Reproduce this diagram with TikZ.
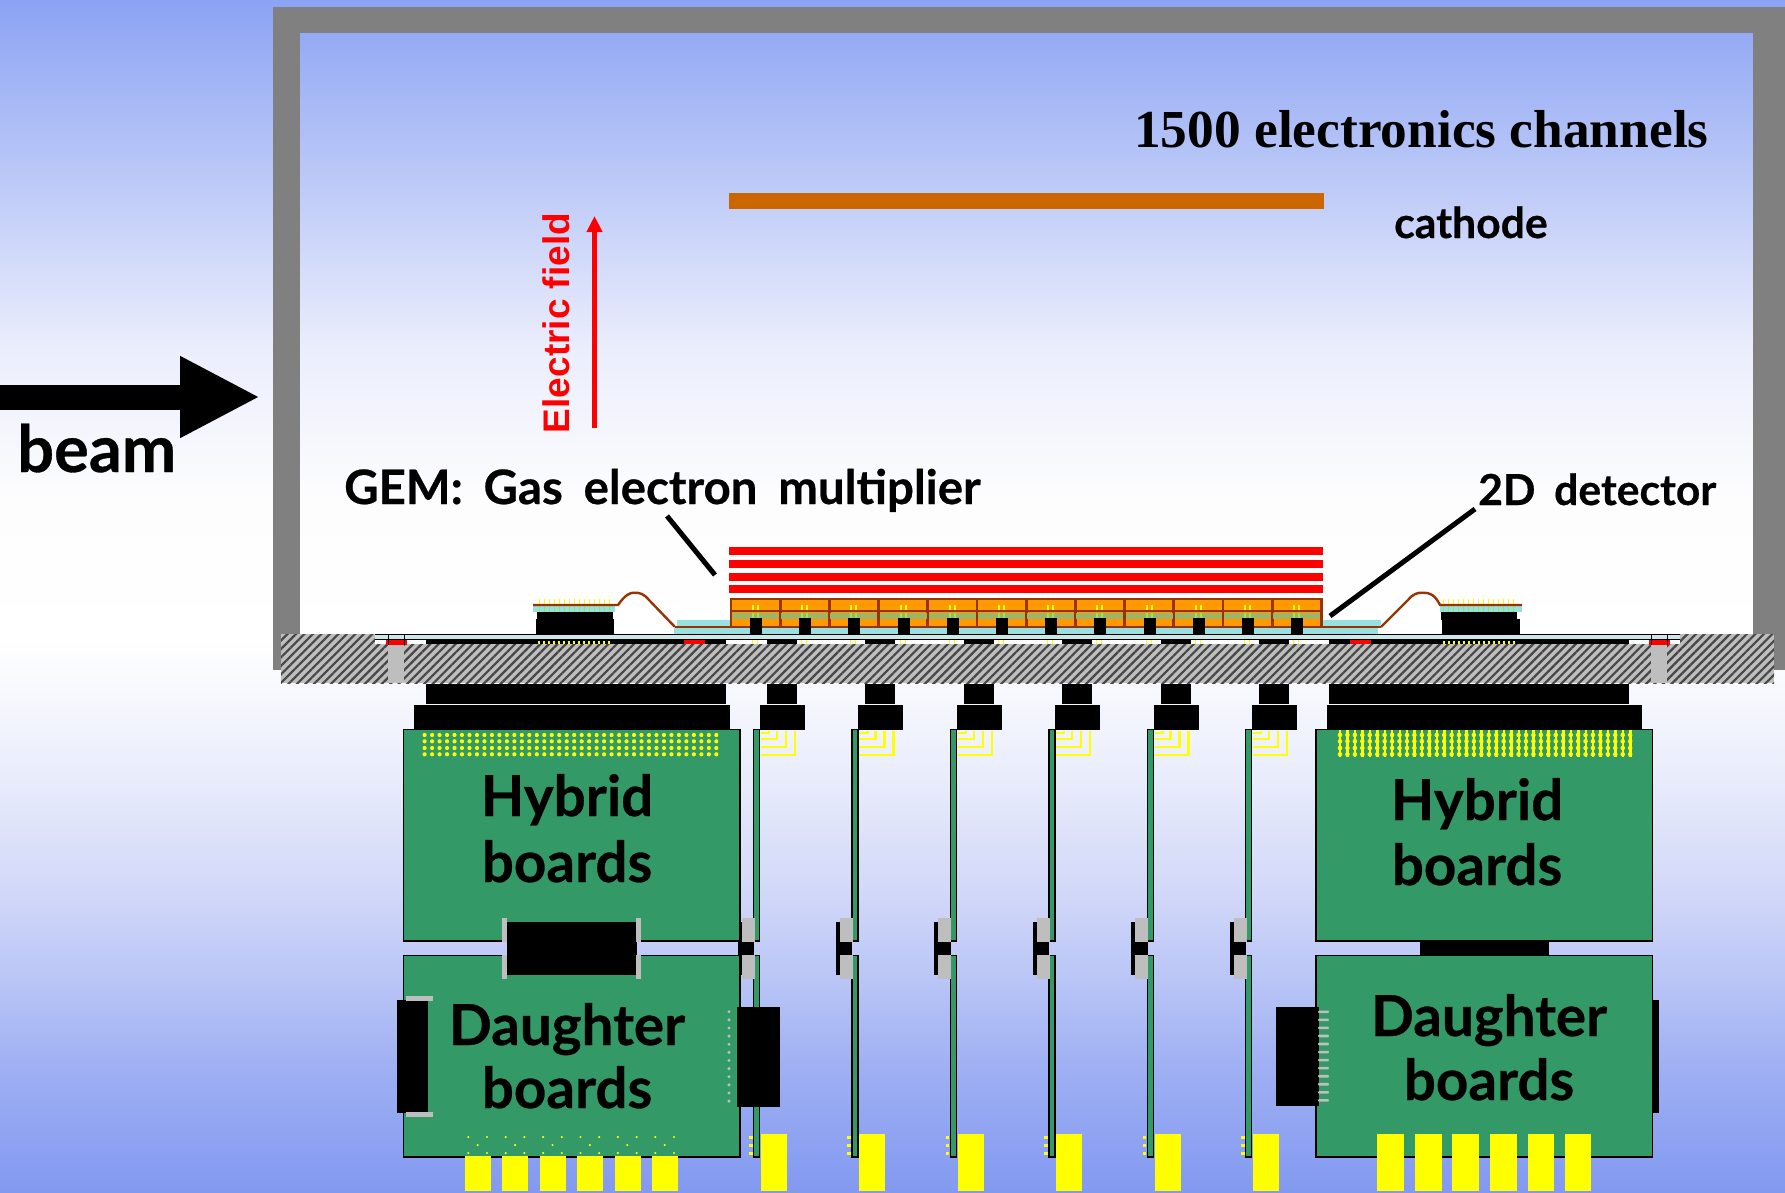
\documentclass[tikz,border=0pt]{standalone}
\usepackage{fontspec}
\setmainfont{Liberation Serif}
\newfontfamily\comicfont{Lato}[WordSpace=1.8,BoldFeatures={FakeBold=0.5}]
\newfontfamily\arialfont{Liberation Sans}
\usetikzlibrary{arrows.meta,patterns.meta}
\definecolor{skya}{RGB}{130,153,240}
\definecolor{skyb}{RGB}{158,175,243}
\definecolor{skyc}{RGB}{185,197,246}
\definecolor{skyd}{RGB}{210,216,248}
\definecolor{skye}{RGB}{238,241,252}
\definecolor{skyf}{RGB}{253,253,254}
\definecolor{skyg}{RGB}{235,238,252}
\definecolor{skyh}{RGB}{139,163,243}
\pgfdeclareverticalshading{skyfade}{100bp}{
  color(0bp)=(skya); color(25bp)=(skya); color(30.15bp)=(skyb); color(33.9bp)=(skyc);
  color(37.7bp)=(skyd); color(43.6bp)=(skye); color(48.2bp)=(white); color(54bp)=(skyf);
  color(60.3bp)=(skyg); color(75bp)=(skyh); color(100bp)=(skyh)}
\definecolor{wallgray}{RGB}{128,128,128}
\definecolor{postgray}{RGB}{190,190,190}
\definecolor{boardgreen}{RGB}{51,153,102}
\definecolor{cathodeorange}{RGB}{204,102,0}
\definecolor{cellorange}{RGB}{255,153,0}
\definecolor{cellbrown}{RGB}{153,51,0}
\definecolor{cellband}{RGB}{160,180,105}
\definecolor{cellpin}{RGB}{150,230,90}
\definecolor{gascyan}{RGB}{153,224,224}
\definecolor{stripcyan}{RGB}{205,232,232}
\definecolor{padyellow}{RGB}{255,255,0}
\tikzset{
  wall/.style={fill=wallgray},
  hatched/.style={pattern={Lines[angle=45,distance=6pt,line width=2.2pt]}, pattern color=black!72},
  board/.style={draw=black, fill=boardgreen, line width=1.4pt},
  part/.style={fill=black},
  post/.style={fill=postgray},
  pad/.style={fill=padyellow},
  foil/.style={fill=red},
  cell/.style={draw=cellbrown, fill=cellorange, line width=2.6pt},
  wire/.style={draw=cellbrown, line width=2.4pt},
  trace/.style={draw=padyellow, line width=2.4pt},
  pointer/.style={draw=black, line width=5pt},
  handtext/.style={anchor=base, inner sep=0pt, font=\comicfont\bfseries\fontsize{56.5}{58}\selectfont},
  smalltext/.style={anchor=base west, inner sep=0pt, font=\comicfont\bfseries\fontsize{42.7}{45}\selectfont},
}
\begin{document}
\begin{tikzpicture}[x=1pt,y=-1pt]
  \useasboundingbox (0,0) rectangle (1785,1193);
  \shade[shading=skyfade] (0,0) rectangle (1785,1193);
  \fill[wall] (273,7) rectangle (300,670);
  \fill[wall] (273,7) rectangle (1785,33);
  \fill[wall] (1753,7) rectangle (1785,670);
  \fill[cathodeorange] (729,193) rectangle (1324,209);
  \coordinate (fieldtail) at (594.5,428);
  \coordinate (fieldtip) at (594.5,216);
  \draw[red, line width=5.5pt, -{Triangle[length=16pt,width=15pt]}] (fieldtail) -- (fieldtip);
  \coordinate (beamtail) at (0,397);
  \coordinate (beamtip) at (260,397);
  \draw[black, line width=25pt, -{Triangle[length=80pt,width=76pt]}] (beamtail) -- (beamtip);
  \fill[postgray] (281,634) rectangle (1774,683);
  \fill[hatched] (281,634) rectangle (1774,683);
  \fill[post] (388,634) rectangle (404,683);
  \fill[post] (1651,634) rectangle (1667,683);
  \fill[white] (375,640) rectangle (1680,644);
  \fill[stripcyan] (375,635) rectangle (1680,639.5);
  \draw[black, line width=0.8pt] (375,634.5) -- (1680,634.5) (375,639.5) -- (1680,639.5);
  \fill[part] (426,640) rectangle (726,644);
  \fill[part] (1329,640) rectangle (1629,644);
  \fill[red] (385.5,640) rectangle (407,645);
  \fill[red] (684,639.5) rectangle (705,644);
  \fill[red] (1350,639.5) rectangle (1371,644);
  \fill[red] (1649,640) rectangle (1670,645);
  \draw[black, line width=0.5pt] (388,634) -- (388,645) (404,634) -- (404,645);
  \draw[black, line width=0.5pt] (1651,634) -- (1651,645) (1667,634) -- (1667,645);
  \foreach \i in {0,...,14}{
    \fill[pad] (538+\i*5,640.5) rectangle +(2,3);
    \fill[pad] (1443+\i*5,640.5) rectangle +(2,3);
  }
  \fill[part] (537,612) rectangle (613,620);
  \fill[part] (536,619) rectangle (614,634);
  \fill[part] (1441,612) rectangle (1517,620);
  \fill[part] (1442,619) rectangle (1520,634);
  \fill[gascyan] (533,606) rectangle (615,612);
  \fill[gascyan] (1440,606) rectangle (1522,612);
  \foreach \i in {0,...,14}{
    \fill[pad] (539+\i*5,599) rectangle +(1.4,6);
    \fill[cellpin] (539+\i*5,606) rectangle +(1.4,6);
    \fill[pad] (1443+\i*5,599) rectangle +(1.4,6);
    \fill[cellpin] (1443+\i*5,606) rectangle +(1.4,6);
  }
  \draw[wire] (533,605) -- (618,605) .. controls (625,595) and (630,592.5) .. (634,592.7) .. controls (640,592.5) and (644,594) .. (649,600) -- (675,627);
  \draw[wire] (1522,605) -- (1440,605) .. controls (1435,595) and (1430,592.5) .. (1423,592.7) .. controls (1417,592.5) and (1413,594) .. (1408,600) -- (1381,627);
  \fill[gascyan] (677,620) rectangle (731,627);
  \fill[gascyan] (1322,620) rectangle (1381,627);
  \fill[gascyan] (674,627) rectangle (1378,634);
  \foreach \i in {0,...,11}{
    \begin{scope}[xshift=\i*49.2pt]
      \draw[cell] (731,599) rectangle (780,627);
      \fill[cellband] (732,612.5) rectangle (779,619);
      \draw[cellbrown, line width=2.6pt] (731,611) -- (780,611);
      \fill[pad] (752,605) rectangle +(2,5);
      \fill[pad] (757,605) rectangle +(2,5);
      \fill[cellpin] (752,613) rectangle +(2,5);
      \fill[cellpin] (757,613) rectangle +(2,5);
      \fill[pad] (752,640) rectangle +(1,4);
      \fill[pad] (757,640) rectangle +(1,4);
    \end{scope}
  }
  \draw[wire] (675,627) -- (1381,627);
  \foreach \i in {0,...,11}{
    \fill[part] (750+\i*49.2,618) rectangle +(12,16);
  }
  \foreach \i in {0,...,3}{
    \fill[foil] (729,547+\i*12.8) rectangle (1323,555+\i*12.8);
  }
  \fill[part] (426,684) rectangle (726,704);
  \fill[part] (414,705) rectangle (730,730);
  \fill[part] (1329,684) rectangle (1629,704);
  \fill[part] (1327,705) rectangle (1642,730);
  \fill[part] (1420,941) rectangle (1549,956);
  \foreach \i in {0,...,5}{
    \begin{scope}[xshift=\i*98.4pt]
      \fill[part] (767,640) rectangle (797,644);
      \fill[part] (767,684) rectangle (797,704);
      \fill[part] (760,705) rectangle (805,730);
      \fill[part] (737.6,922) rectangle (741.6,975);
      \fill[part] (741,942) rectangle (754,955);
      \draw[board] (753.7,729.5) rectangle (759.7,941);
      \draw[board] (753.7,955.7) rectangle (759.7,1157);
      \fill[post] (741.6,918) rectangle (754.6,942);
      \fill[post] (741.6,955) rectangle (754.6,979);
      \draw[trace] (761,755) -- (795,755) -- (795,731);
      \draw[trace] (761,747) -- (786,747) -- (786,731);
      \draw[trace] (761,739) -- (777,739) -- (777,731);
      \draw[trace] (761,733) -- (769,733) -- (769,731);
      \fill[pad] (749,1135.5) rectangle +(3.5,3);
      \fill[pad] (749,1143.5) rectangle +(3.5,3);
      \fill[pad] (749,1151.5) rectangle +(3.5,3);
      \fill[pad] (761,1134) rectangle (787,1191);
    \end{scope}
  }
  \fill[part] (1653,1000) rectangle (1659,1113);
  \draw[board] (403.5,729.5) rectangle (740,941);
  \draw[board] (403.5,955.7) rectangle (740,1157);
  \draw[board] (1316,729.5) rectangle (1652.7,941);
  \draw[board] (1316,955.7) rectangle (1652.7,1157);
  \fill[part] (397,1000) rectangle (428,1113);
  \fill[post] (406,996) rectangle (433,1001);
  \fill[post] (406,1112) rectangle (433,1117);
  \fill[part] (507,922) rectangle (637,975);
  \fill[post] (502,918) rectangle (507,942);
  \fill[post] (502,955) rectangle (507,979);
  \fill[post] (636,918) rectangle (641,942);
  \fill[post] (636,955) rectangle (641,979);
  \fill[part] (737,1007) rectangle (780,1107);
  \fill[part] (1276,1007) rectangle (1319,1106);
  \foreach \i in {0,...,11}{
    \fill[post] (729,1011.7+\i*8.13) circle (1.7);
    \fill[post, rounded corners=1pt] (1318,1010.5+\i*8.05) rectangle +(11,2.6);
  }
  \foreach \i in {0,...,39}{
    \foreach \ypos in {735,741.3,748,754.3}{
      \fill[pad] (424.6+\i*7.48,\ypos) circle (2.1);
      \fill[pad] (1340+\i*7.44,\ypos) circle (2.3);
    }
    \fill[pad] (1339+\i*7.44,730) rectangle +(2.4,26.5);
  }
  \foreach \i in {0,...,5}{
    \begin{scope}[xshift=\i*37.4pt]
      \foreach \p in {(468.3,1137),(487,1137),(477.7,1145),(468.3,1153),(487,1153)}{
        \fill[pad] \p circle (1.2);
      }
      \fill[pad] (465,1156) rectangle (491,1191);
    \end{scope}
  }
  \foreach \xpos/\wd in {1377/27,1415/27,1452/27,1490/27,1528/26,1565/26}{
    \fill[pad] (\xpos,1134) rectangle +(\wd,57);
  }
  \node[anchor=base west, inner sep=0pt, font=\bfseries\fontsize{53.4}{55}\selectfont] (channels) at (1134,148) {1500 electronics channels};
  \node[smalltext] (cathode) at (1394,238) {cathode};
  \node[anchor=base, inner sep=0pt, rotate=90, text=red, font=\arialfont\bfseries\fontsize{37}{39}\selectfont] (field) at (569,323) {Electric field};
  \node[handtext, anchor=base west, font=\comicfont\bfseries\fontsize{65}{67}\selectfont] (beam) at (17,472) {beam};
  \node[smalltext, font=\comicfont\bfseries\fontsize{47.4}{49}\selectfont] (gemlabel) at (344,504) {GEM: Gas electron multiplier};
  \node[smalltext] (detlabel) at (1478,505) {2D detector};
  \coordinate (gemend) at (715,575);
  \coordinate (gemstart) at (667,516);
  \coordinate (detstart) at (1475,509);
  \coordinate (detend) at (1330,616);
  \draw[pointer] (gemstart) -- (gemend);
  \draw[pointer] (detstart) -- (detend);
  \node[handtext] (hybridl) at (567,816) {Hybrid};
  \node[handtext] (boardsl) at (567,882) {boards};
  \node[handtext] (hybridr) at (1477,820) {Hybrid};
  \node[handtext] (boardsr) at (1477,885) {boards};
  \node[handtext] (daughterl) at (567,1045) {Daughter};
  \node[handtext] (dboardsl) at (567,1108) {boards};
  \node[handtext] (daughterr) at (1489,1036) {Daughter};
  \node[handtext] (dboardsr) at (1489,1100) {boards};
\end{tikzpicture}
\end{document}
